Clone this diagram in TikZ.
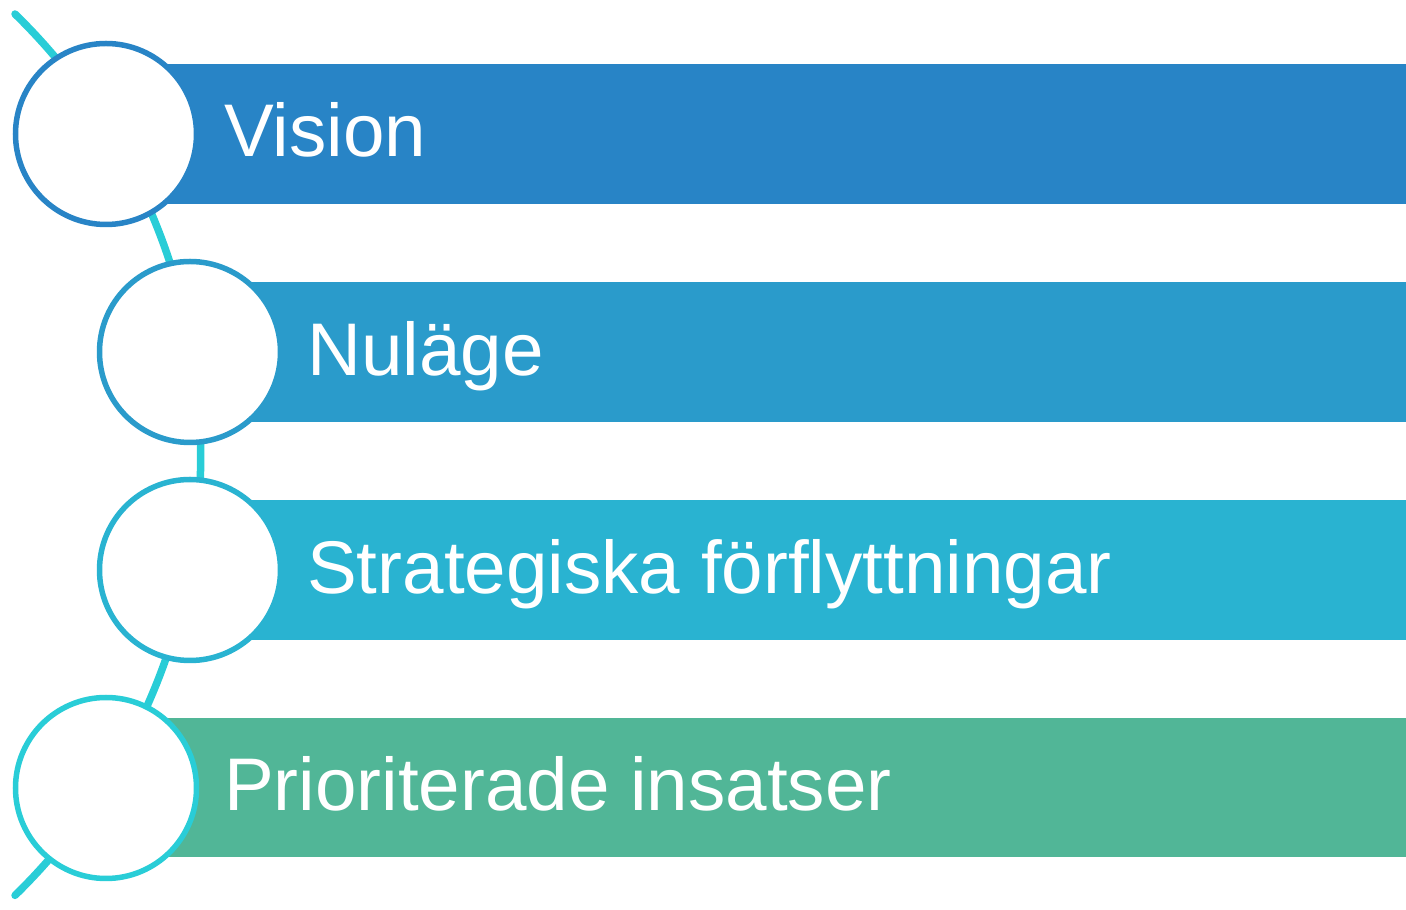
\documentclass[tikz,border=0pt]{standalone}
\usepackage{fontspec}
\setmainfont{Liberation Sans}
\definecolor{cA}{HTML}{2884C6}
\definecolor{cB}{HTML}{2A9BCB}
\definecolor{cC}{HTML}{29B3D1}
\definecolor{cD}{HTML}{51B697}
\definecolor{cArc}{HTML}{29CDD7}
\tikzset{
  bar/.style={fill=#1, draw=none},
  ring/.style={circle, draw=#1, line width=5.5pt, fill=white, minimum size=181pt, inner sep=0pt},
  lbl/.style={anchor=base west, text=white, font=\fontsize{74.6}{80}\selectfont, inner sep=0pt},
  spine/.style={draw=cArc, line width=7.5pt, line cap=round}
}
\begin{document}
\begin{tikzpicture}[x=1pt,y=1pt]
\useasboundingbox (0,0) rectangle (1406,910);
% spine arc
\coordinate (top) at (15,896);
\draw[spine] (top) arc[start angle=45.7, end angle=-45.7, radius=615.8pt] coordinate (bot);
% bars
\fill[bar=cA] (150,706) rectangle (1406,846);
\fill[bar=cB] (230,488) rectangle (1406,628);
\fill[bar=cC] (230,270) rectangle (1406,410);
\fill[bar=cD] (150,53) rectangle (1406,192);
% circles
\node[ring=cA] (c1) at (106,776) {};
\node[ring=cB] (c2) at (190,558) {};
\node[ring=cC] (c3) at (190,340) {};
\node[ring=cArc] (c4) at (106,122) {};
% labels
\node[lbl] (t1) at (224,753) {Vision};
\node[lbl] (t2) at (307,534) {Nuläge};
\node[lbl] (t3) at (307,316) {Strategiska förflyttningar};
\node[lbl] (t4) at (224,99) {Prioriterade insatser};
\end{tikzpicture}
\end{document}
